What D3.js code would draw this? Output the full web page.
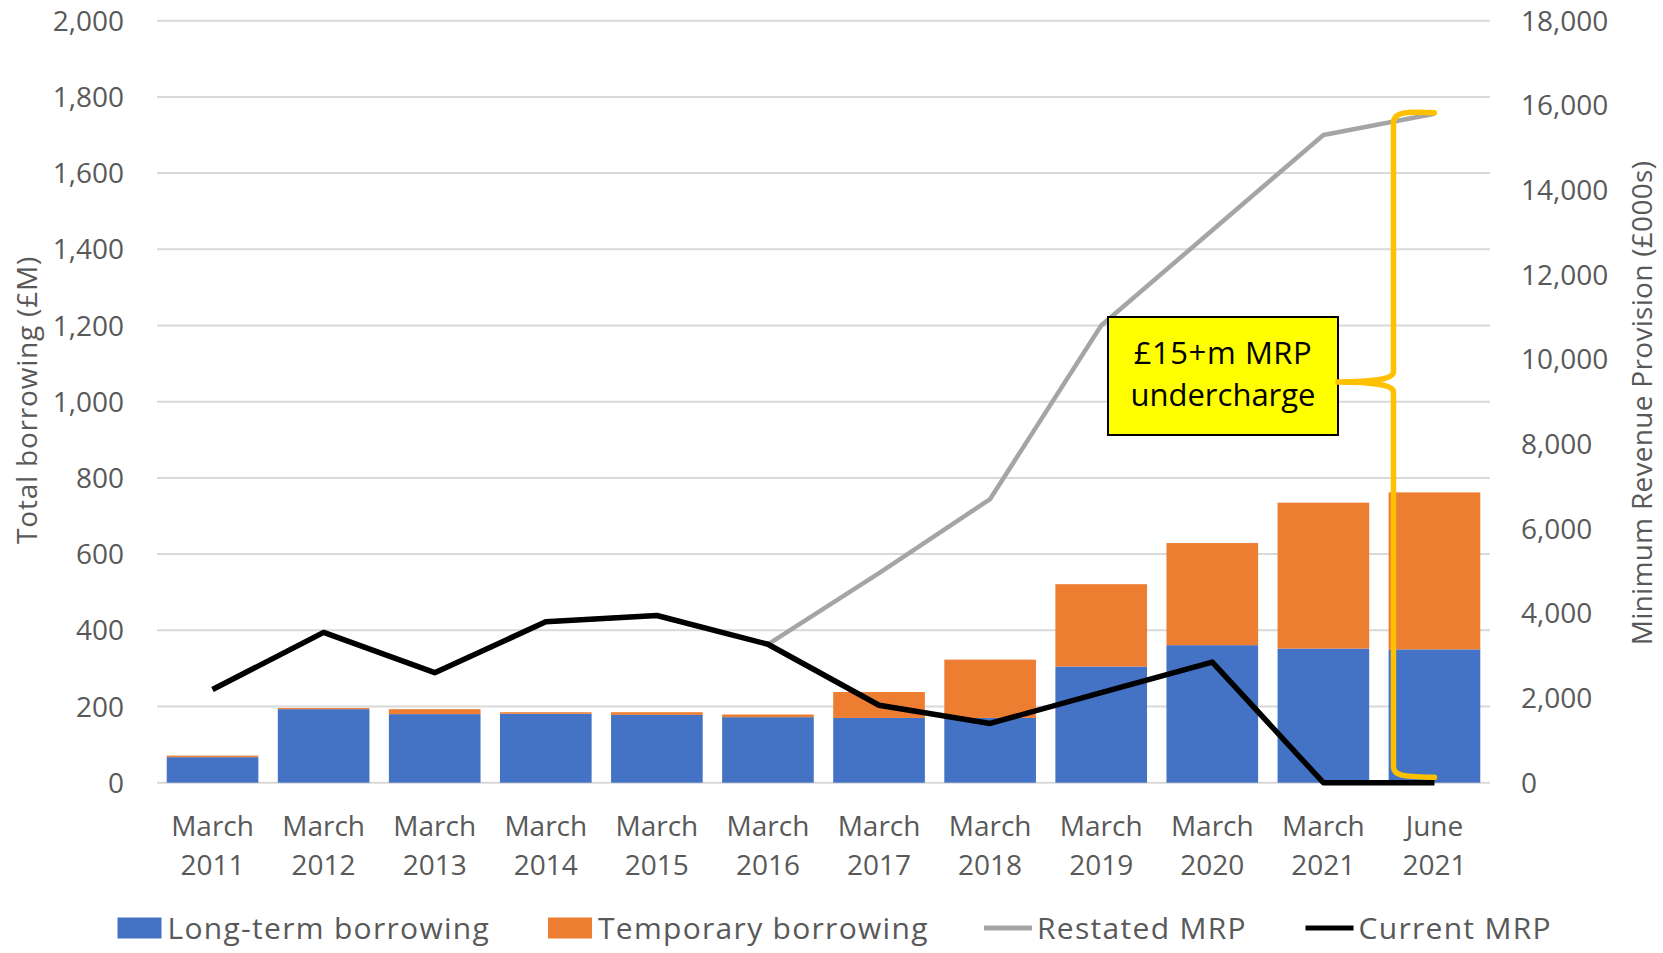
<!DOCTYPE html>
<html>
<head>
<meta charset="utf-8">
<script src="https://cdn.jsdelivr.net/npm/d3@7"></script>
<style>
  body { margin: 0; background: #fff; }
  svg { display: block; font-family: "Open Sans", "Noto Sans", sans-serif; }
</style>
</head>
<body>
<svg id="chart" width="1663" height="953"></svg>
<script>
// data
const periods = ["March 2011", "March 2012", "March 2013", "March 2014", "March 2015", "March 2016",
  "March 2017", "March 2018", "March 2019", "March 2020", "March 2021", "June 2021"];
const longTerm = [67, 193, 180, 181, 178, 172, 170, 170, 305, 361, 352, 350];
const temporary = [4, 3, 13, 4, 7, 7, 68, 153, 216, 268, 383, 412];
const restatedMRP = [2200, 3550, 2600, 3800, 3950, 3270, 4950, 6700, 10800, 13050, 15300, 15800];
const currentMRP = [2200, 3550, 2600, 3800, 3950, 3270, 1830, 1400, 2130, 2850, 0, 0];
const leftTicks = d3.range(0, 2001, 200);
const rightTicks = d3.range(0, 18001, 2000);

const margin = {top: 20.7, bottom: 170.3, left: 157, right: 173};
const W = 1663, H = 953;
const textCol = "#595959";

const svg = d3.select("#chart");
svg.append("rect").attr("width", W).attr("height", H).attr("fill", "#fff");

let x = d3.scaleBand()
  .domain(periods)
  .range([margin.left, W - margin.right])
  .paddingInner(0.175)
  .paddingOuter(0.0875);
let yL = d3.scaleLinear().domain([0, 2000]).range([H - margin.bottom, margin.top]);
let yR = d3.scaleLinear().domain([0, 18000]).range([H - margin.bottom, margin.top]);

// grid
svg.append("g").selectAll("line")
  .data(leftTicks)
  .enter().append("line")
  .attr("x1", margin.left).attr("x2", W - margin.right)
  .attr("y1", d => yL(d)).attr("y2", d => yL(d))
  .attr("stroke", "#d9d9d9").attr("stroke-width", 2);

// left ticks
svg.append("g").selectAll("text")
  .data(leftTicks)
  .enter().append("text")
  .attr("x", 124).attr("y", d => yL(d))
  .attr("dy", "0.36em")
  .attr("text-anchor", "end")
  .attr("font-size", 28).attr("fill", textCol)
  .text(d3.format(","));

// right ticks
svg.append("g").selectAll("text")
  .data(rightTicks)
  .enter().append("text")
  .attr("x", 1521).attr("y", d => yR(d))
  .attr("dy", "0.36em")
  .attr("font-size", 28).attr("fill", textCol)
  .text(d3.format(","));

// axis titles
svg.append("text")
  .attr("transform", "translate(37," + 400 + ") rotate(-90)")
  .attr("text-anchor", "middle")
  .attr("font-size", 28).attr("letter-spacing", 0.8).attr("fill", textCol)
  .text("Total borrowing (£M)");
svg.append("text")
  .attr("transform", "translate(1652," + 403 + ") rotate(-90)")
  .attr("text-anchor", "middle")
  .attr("font-size", 28).attr("letter-spacing", 0.3).attr("fill", textCol)
  .text("Minimum Revenue Provision (£000s)");

// stacked bars
let stacked = d3.stack().keys(["long", "temp"])(
  periods.map((p, i) => ({period: p, long: longTerm[i], temp: temporary[i]})));
let colors = {long: "#4472c4", temp: "#ed7d31"};
svg.append("g").selectAll("g")
  .data(stacked)
  .enter().append("g")
  .attr("fill", d => colors[d.key])
  .selectAll("rect")
  .data(d => d)
  .enter().append("rect")
  .attr("x", d => x(d.data.period))
  .attr("y", d => yL(d[1]))
  .attr("width", x.bandwidth())
  .attr("height", d => yL(d[0]) - yL(d[1]));

// lines
let cx = p => x(p) + x.bandwidth() / 2;
let line = d3.line().x((d, i) => cx(periods[i])).y(d => yR(d));
svg.append("path")
  .attr("d", line(restatedMRP))
  .attr("fill", "none").attr("stroke", "#a5a5a5")
  .attr("stroke-width", 4.5).attr("stroke-linejoin", "round");
svg.append("path")
  .attr("d", line(currentMRP))
  .attr("fill", "none").attr("stroke", "#000")
  .attr("stroke-width", 5.5).attr("stroke-linejoin", "round");

// annotation box
let box = {x: 1108, y: 317, w: 230, h: 118};
svg.append("rect")
  .attr("x", box.x).attr("y", box.y).attr("width", box.w).attr("height", box.h)
  .attr("fill", "#ffff00").attr("stroke", "#000").attr("stroke-width", 2);
svg.append("text")
  .attr("x", box.x + box.w / 2).attr("y", 364)
  .attr("text-anchor", "middle").attr("font-size", 31).attr("letter-spacing", 0.6).attr("fill", "#000")
  .text("£15+m MRP");
svg.append("text")
  .attr("x", box.x + box.w / 2).attr("y", 406)
  .attr("text-anchor", "middle").attr("font-size", 31).attr("fill", "#000")
  .text("undercharge");

// brace spanning the gap at June 2021
let last = periods[periods.length - 1];
let tipX = cx(last);
let bx = tipX - 41;
let topY = yR(restatedMRP[restatedMRP.length - 1]) - 1;
let botY = yR(150);
let midY = 382;
let r = 10;
let brace = d3.path();
brace.moveTo(tipX, topY);
brace.bezierCurveTo(bx + r, topY - 2, bx, topY, bx, topY + r);
brace.lineTo(bx, midY - r);
brace.quadraticCurveTo(bx, midY, box.x + box.w, midY);
brace.quadraticCurveTo(bx, midY, bx, midY + r);
brace.lineTo(bx, botY - r);
brace.bezierCurveTo(bx, botY, bx + r, botY, tipX, botY + 1);
svg.append("path")
  .attr("d", brace.toString())
  .attr("fill", "none").attr("stroke", "#ffc000")
  .attr("stroke-width", 5.5).attr("stroke-linejoin", "round").attr("stroke-linecap", "round");

// x labels
let xl = svg.append("g").selectAll("text")
  .data(periods)
  .enter().append("text")
  .attr("text-anchor", "middle")
  .attr("font-size", 28).attr("fill", textCol);
xl.append("tspan").attr("x", d => cx(d)).attr("y", 836).text(d => d.split(" ")[0]);
xl.append("tspan").attr("x", d => cx(d)).attr("y", 875).text(d => d.split(" ")[1]);

// legend
let legend = [
  {name: "Long-term borrowing", type: "rect", color: "#4472c4", x: 117.5},
  {name: "Temporary borrowing", type: "rect", color: "#ed7d31", x: 548},
  {name: "Restated MRP", type: "line", color: "#a5a5a5", x: 984},
  {name: "Current MRP", type: "line", color: "#000", x: 1305.5}
];
let lg = svg.append("g").selectAll("g")
  .data(legend)
  .enter().append("g")
  .attr("transform", d => "translate(" + d.x + ",928)");
lg.filter(d => d.type === "rect").append("rect")
  .attr("x", 0).attr("y", -10.5).attr("width", 44).attr("height", 21)
  .attr("fill", d => d.color);
lg.filter(d => d.type === "line").append("line")
  .attr("x1", 0).attr("x2", 48).attr("y1", 0).attr("y2", 0)
  .attr("stroke", d => d.color).attr("stroke-width", 5);
lg.append("text")
  .attr("x", d => d.type === "rect" ? 50 : 53).attr("y", 0).attr("dy", "0.36em")
  .attr("font-size", 30).attr("letter-spacing", 1.3).attr("fill", textCol)
  .text(d => d.name);
</script>
</body>
</html>
